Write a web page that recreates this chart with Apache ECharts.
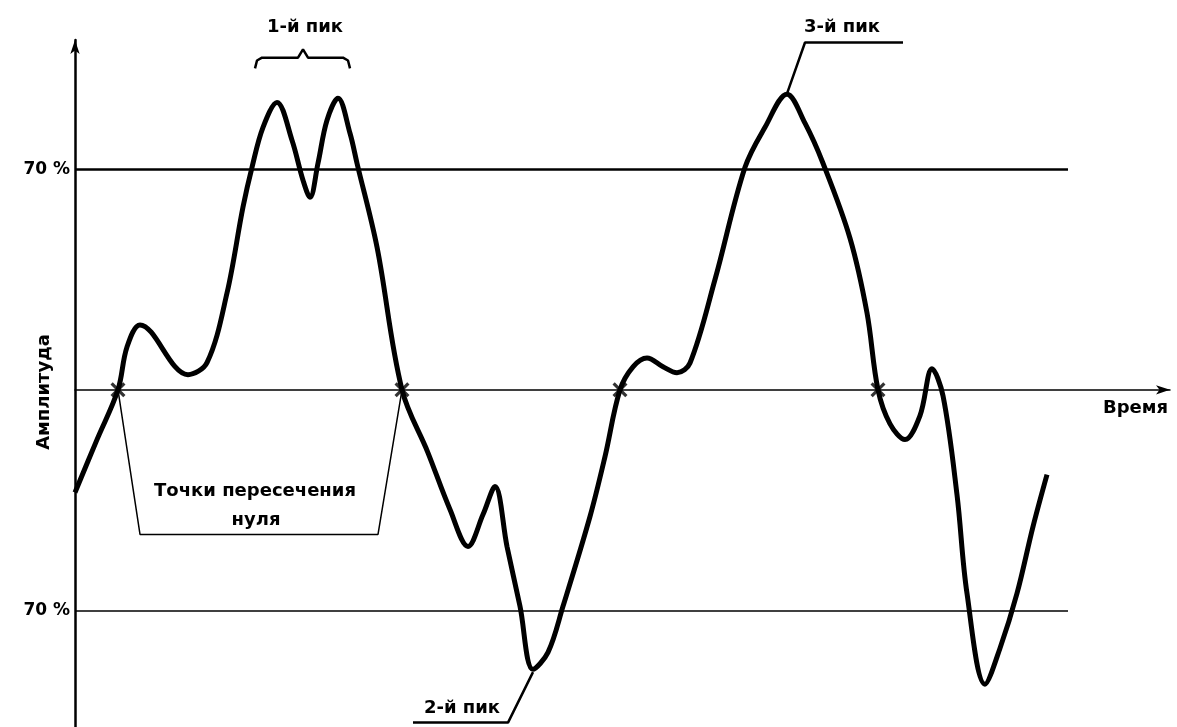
<!DOCTYPE html>
<html><head><meta charset="utf-8">
<script src="https://cdn.jsdelivr.net/npm/echarts@6/dist/echarts.min.js"></script>
<style>html,body{margin:0;padding:0;background:#fff}#c{width:1177px;height:727px}</style>
</head><body><div id="c"></div>
<script>
// Signal (time units, amplitude %)
const timeVals = [0,22,43,52,65,113,132,152,168,177,188,202,217,228,235,243,252,263,275,282,302,327,353,375,393,408,420,432,445,458,473,488,515,530,545,558,572,588,602,615,640,670,690,712,730,748,775,792,803,815,830,845,857,868,882,892,910,925,942,958,972];
const ampVals  = [-32.6,-15.8,0,13.6,20.6,4.8,8.6,30.7,58,70.6,83.3,91.2,79.2,66.5,61.1,71.9,85.5,92.5,81.4,71.9,45.3,0,-20,-38,-49.7,-39.6,-30.7,-49.7,-68.7,-88.7,-83.3,-68.7,-40.2,-21.2,0,7.3,10.1,7.3,5.4,8.5,35,70.6,83.3,93.8,84.6,71.9,48.1,24.4,0,-10.8,-15.8,-8.2,6.7,-1.9,-33.3,-64.6,-93.4,-82,-64.6,-43.4,-26.9];
const zeroCrossings = [43,327,545,803];
const thresholds = [70,-70];
const thresholdEnd = 993;
const tickLabels = ['70 %','70 %'];
// annotation guides (data units)
const crossBox = [[43,0],[65,-45.9],[303,-45.9],[327,0]];
const bracket1 = [[180,102],[182,104.5],[187,105.4],[223,105.4],[228,108],[233,105.4],[268,105.4],[273,104.5],[275,102]];
const leader3 = [[712,94],[730,110.2],[828,110.2]];
const leader2 = [[458,-89.6],[433,-105.6],[338,-105.6]];

const chart = echarts.init(document.getElementById('c'));
const F = '"DejaVu Sans", Verdana, sans-serif';
const txt = (x,y,t,align,size,rot)=>({type:'text',x:x,y:y,rotation:rot||0,style:{text:t,fill:'#000',font:'bold '+(size||18)+'px '+F,align:align||'center',verticalAlign:'middle'}});
const guide = (d,w)=>({type:'line',data:d,symbol:'none',silent:true,lineStyle:{color:'#000',width:w||1.5},z:1});
chart.setOption({
  animation:false,
  grid:{left:75,right:7,top:40,bottom:0},
  xAxis:{type:'value',min:0,max:1095,
    axisLine:{onZero:true,lineStyle:{color:'#000',width:1.5},symbol:['none','arrow'],symbolSize:[7,14]},
    axisTick:{show:false},axisLabel:{show:false},splitLine:{show:false}},
  yAxis:{type:'value',min:-107,max:111,
    axisLine:{onZero:false,lineStyle:{color:'#000',width:2.5},symbol:['none','arrow'],symbolSize:[7,14]},
    axisTick:{show:false},splitLine:{show:false},
    axisLabel:{customValues:thresholds,formatter:(v)=>tickLabels[thresholds.indexOf(v)],
      color:'#000',fontFamily:F,fontWeight:'bold',fontSize:17,margin:5}},
  series:[
    Object.assign(guide(crossBox),{markLine:{silent:true,symbol:'none',label:{show:false},
      data:[
        [{coord:[0,thresholds[0]],lineStyle:{width:2.5}},{coord:[thresholdEnd,thresholds[0]]}],
        [{coord:[0,thresholds[1]],lineStyle:{width:1.5}},{coord:[thresholdEnd,thresholds[1]]}]
      ],lineStyle:{color:'#000',type:'solid'}}}),
    guide(bracket1,2.5),guide(leader3,2.5),guide(leader2,2.5),
    {type:'line',data:timeVals.map((t,i)=>[t,ampVals[i]]),smooth:0.35,symbol:'none',
      lineStyle:{color:'#000',width:5},z:3},
    {type:'scatter',data:zeroCrossings.map(t=>[t,0]),
      symbol:'path://M0,1.5L1.5,0L5,3.5L8.5,0L10,1.5L6.5,5L10,8.5L8.5,10L5,6.5L1.5,10L0,8.5L3.5,5Z',symbolSize:15,
      itemStyle:{color:'#000'},z:4}
  ],
  graphic:[
    txt(305,27,'1-й пик'),txt(842,27,'3-й пик'),txt(462,708,'2-й пик'),
    txt(255,491,'Точки пересечения',null,18),txt(256,520,'нуля',null,18),
    txt(1103,408,'Время','left',18),
    txt(44,392,'Амплитуда',null,18,Math.PI/2)
  ]
});
</script></body></html>
